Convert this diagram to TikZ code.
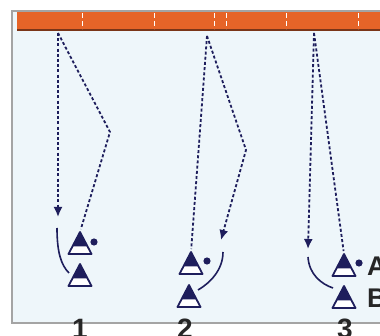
\documentclass[tikz,border=0pt]{standalone}
\usepackage{fontspec}
\setmainfont{Liberation Sans}
\usetikzlibrary{arrows.meta,calc,positioning}
\definecolor{navy}{HTML}{1E1E5C}
\definecolor{pitch}{HTML}{EEF6FA}
\definecolor{barorange}{HTML}{E66428}
\definecolor{barshadow}{HTML}{7A3518}
\definecolor{frame}{HTML}{A4A4A4}

\begin{document}
\begin{tikzpicture}[x=1pt,y=-1pt,
    run/.style={navy, line width=1.8pt, dash pattern=on 3pt off 2.2pt},
    runarrow/.style={run, -{Latex[length=10pt,width=9pt]}},
    track/.style={navy, line width=1.6pt},
    player/.pic={
        \draw[navy, line width=1.8pt, line join=round, fill=white] (0,0) -- (-11.5,22) -- (11.5,22) -- cycle;
        \fill[navy] (0,0) -- (-7.6,14.5) -- (7.6,14.5) -- cycle;
    },
    num/.style={font=\bfseries\fontsize{28}{28}\selectfont, text=black!85, anchor=base},
    tag/.style={font=\bfseries\fontsize{27}{27}\selectfont, text=black!85, anchor=base west, inner sep=0pt}]

    \useasboundingbox (0,0) rectangle (380,336);

    % pitch and top bar
    \draw[frame, line width=2pt, fill=pitch] (12,11) rectangle (384,323);
    \fill[barorange] (17,12) rectangle (384,29.5);
    \fill[barshadow] (17,29.5) rectangle (384,31);
    \foreach \tx in {82,154,214,226,286,358}
        \draw[white, line width=0.8pt, dash pattern=on 5pt off 3pt] (\tx,13) -- (\tx,29);

    % positions
    \coordinate (top1) at (58,33);
    \coordinate (turn1) at (110,132);
    \coordinate (end1) at (58,217);
    \coordinate (A1) at (80,232);
    \coordinate (B1) at (80,264);

    \coordinate (top2) at (207,36);
    \coordinate (turn2) at (246,150);
    \coordinate (end2) at (221,240);
    \coordinate (A2) at (191,252);
    \coordinate (B2) at (189,285);

    \coordinate (top3) at (314,33);
    \coordinate (end3) at (308,249);
    \coordinate (A3) at (344,254);
    \coordinate (B3) at (344,286);

    % 1
    \draw[runarrow] (top1) -- (end1);
    \draw[run, shorten >=3pt] (top1) -- (turn1) -- (A1);
    \draw[track] (57,228) .. controls (57,252) and (61,265) .. (69,273);
    \pic at (A1) {player};
    \pic at (B1) {player};
    \fill[navy] (A1) ++(14,10) circle (3.6);

    % 2
    \draw[run, shorten >=3pt] (top2) -- (A2);
    \draw[runarrow] (top2) -- (turn2) -- (end2);
    \draw[track] (223,252) .. controls (223,270) and (210,283) .. (198,290);
    \pic at (A2) {player};
    \pic at (B2) {player};
    \fill[navy] (A2) ++(16,9) circle (3.6);

    % 3
    \draw[runarrow] (top3) -- (end3);
    \draw[run, shorten >=3pt] (top3) -- (A3);
    \draw[track] (308,257) .. controls (309,274) and (321,284) .. (333,288);
    \pic at (A3) {player};
    \pic at (B3) {player};
    \fill[navy] (A3) ++(15,9) circle (3.6);

    \node[tag] (labA) at (367,276) {A};
    \node[tag] (labB) at (367,308) {B};

    \node[num] (num1) at (80,339) {1};
    \node[num] (num2) at (185,339) {2};
    \node[num] (num3) at (345,339) {3};
\end{tikzpicture}
\end{document}
